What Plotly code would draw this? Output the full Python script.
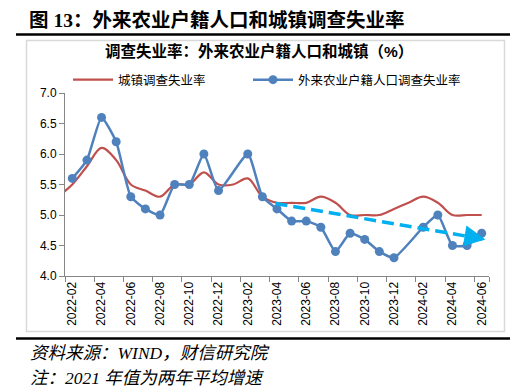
import plotly.graph_objects as go

# ---- data ----
months = ["2022-01", "2022-02", "2022-03", "2022-04", "2022-05", "2022-06", "2022-07", "2022-08",
          "2022-09", "2022-10", "2022-11", "2022-12", "2023-01", "2023-02", "2023-03", "2023-04",
          "2023-05", "2023-06", "2023-07", "2023-08", "2023-09", "2023-10", "2023-11", "2023-12",
          "2024-01", "2024-02", "2024-03", "2024-04", "2024-05", "2024-06"]
urban_rate = [5.3, 5.5, 5.8, 6.1, 5.9, 5.5, 5.4, 5.3, 5.5, 5.5, 5.7, 5.5, 5.5, 5.6, 5.3,
              5.2, 5.2, 5.2, 5.3, 5.2, 5.0, 5.0, 5.0, 5.1, 5.2, 5.3, 5.2, 5.0, 5.0, 5.0]
migrant_rate = [None, 5.6, 5.9, 6.6, 6.2, 5.3, 5.1, 5.0, 5.5, 5.5, 6.0, 5.4, None, 6.0, 5.3,
                5.1, 4.9, 4.9, 4.8, 4.4, 4.7, 4.6, 4.4, 4.3, None, 4.8, 5.0, 4.5, 4.5, 4.7]
tick_labels = ["2022-02", "2022-04", "2022-06", "2022-08", "2022-10", "2022-12", "2023-02",
               "2023-04", "2023-06", "2023-08", "2023-10", "2023-12", "2024-02", "2024-04", "2024-06"]
trend_x = ["2023-04", "2024-06"]
trend_y = [5.19, 4.60]

# position index: 2022-02 -> 0
idx = {m: i - 1 for i, m in enumerate(months)}
x_all = [idx[m] for m in months]
tick_pos = [idx[t] for t in tick_labels]
trend_pos = [idx[trend_x[0]] - 0.1, idx[trend_x[1]] + 0.25]

W, H = 528, 391
L, R, T, B = 65, 39, 93, 115
pw, ph = W - L - R, H - T - B


def px(xp):
    return (xp - L) / pw


def py(yp):
    return (H - B - yp) / ph


RED = "#C0504D"
BLUE = "#4F81BD"
CJK = "Noto Sans CJK SC"

fig = go.Figure()
fig.add_trace(go.Scatter(x=x_all, y=urban_rate, name="城镇调查失业率", mode="lines",
                         line=dict(color=RED, width=2.2, shape="spline", smoothing=1.0),
                         legend="legend"))
fig.add_trace(go.Scatter(x=x_all, y=migrant_rate, name="外来农业户籍人口调查失业率",
                         mode="lines+markers", connectgaps=True,
                         line=dict(color=BLUE, width=2.5, shape="spline", smoothing=0.5),
                         marker=dict(color=BLUE, size=9), legend="legend2"))
fig.add_trace(go.Scatter(x=trend_pos, y=trend_y, mode="lines", showlegend=False,
                         line=dict(color="#00B0F0", width=3.5, dash="12px,6px"),
                         hoverinfo="skip"))
# arrow head
ah_x = trend_pos[1]
ah_y = trend_y[1]
slope = (trend_y[1] - trend_y[0]) / (trend_pos[1] - trend_pos[0])
fig.add_annotation(x=ah_x, y=ah_y, ax=ah_x - 1.2, ay=ah_y - slope * 1.2,
                   xref="x", yref="y", axref="x", ayref="y", text="",
                   showarrow=True, arrowhead=2, arrowsize=1.2, arrowwidth=3.5,
                   arrowcolor="#00B0F0")

fig.update_xaxes(range=[-0.5, 28.5], tickmode="array", tickvals=tick_pos, ticktext=tick_labels,
                 tickangle=-90, ticks="", showgrid=False, zeroline=False,
                 showline=True, linecolor="#868686", linewidth=1,
                 tickfont=dict(family="Liberation Sans, Arial", size=12, color="#000000"),
                 minor=dict(tickmode="array", tickvals=[p - 0.5 for p in tick_pos] + [28.5],
                            ticks="outside", ticklen=5, tickcolor="#868686", showgrid=False))
fig.update_yaxes(range=[4.0, 7.0], dtick=0.5, tick0=4.0, tickformat=".1f",
                 ticks="outside", ticklen=5, tickcolor="#868686",
                 showgrid=False, zeroline=False, showline=True, linecolor="#868686", linewidth=1,
                 tickfont=dict(family="Liberation Sans, Arial", size=12, color="#000000"))

shapes = [
    dict(type="rect", xref="paper", yref="paper", x0=px(26.5), x1=px(504.5), y0=py(331.5), y1=py(40.5),
         line=dict(color="#D9D9D9", width=1.5), fillcolor="rgba(0,0,0,0)", layer="below"),
    dict(type="line", xref="paper", yref="paper", x0=px(16), x1=px(510), y0=py(34.5), y1=py(34.5),
         line=dict(color="#000000", width=2.5)),
    dict(type="line", xref="paper", yref="paper", x0=px(16), x1=px(510), y0=py(338.5), y1=py(338.5),
         line=dict(color="#000000", width=2.5)),
]
fig.update_layout(shapes=shapes)

fig.add_annotation(xref="paper", yref="paper", x=px(27), y=py(20.5), xanchor="left", yanchor="middle",
                   text="<b>图 13：外来农业户籍人口和城镇调查失业率</b>", showarrow=False,
                   font=dict(family="Liberation Serif, " + CJK, size=19.5, color="#000000"))
fig.add_annotation(xref="paper", yref="paper", x=px(259), y=py(51), xanchor="center", yanchor="middle",
                   text="<b>调查失业率：外来农业户籍人口和城镇（%）</b>", showarrow=False,
                   font=dict(family="Liberation Sans, " + CJK, size=15.5, color="#000000"))
fig.add_annotation(xref="paper", yref="paper", x=px(28), y=py(353), xanchor="left", yanchor="middle",
                   text="<i>资料来源：WIND，财信研究院</i>", showarrow=False,
                   font=dict(family="Liberation Serif, " + CJK, size=17.5, color="#000000"))
fig.add_annotation(xref="paper", yref="paper", x=px(28), y=py(378), xanchor="left", yanchor="middle",
                   text="<i>注：2021 年值为两年平均增速</i>", showarrow=False,
                   font=dict(family="Liberation Serif, " + CJK, size=17.5, color="#000000"))

legend_common = dict(orientation="h", yanchor="middle", xanchor="left",
                     font=dict(family=CJK, size=12.5, color="#000000"),
                     bgcolor="rgba(0,0,0,0)", itemwidth=40)
fig.update_layout(
    width=W, height=H,
    margin=dict(l=L, r=R, t=T, b=B, autoexpand=False),
    paper_bgcolor="#FFFFFF", plot_bgcolor="#FFFFFF",
    legend=dict(x=px(68), y=py(80), **legend_common),
    legend2=dict(x=px(248), y=py(80), **legend_common),
    showlegend=True,
)

fig.write_html("out.html", post_script="document.body.style.margin='0';",
               config={"displayModeBar": False})
